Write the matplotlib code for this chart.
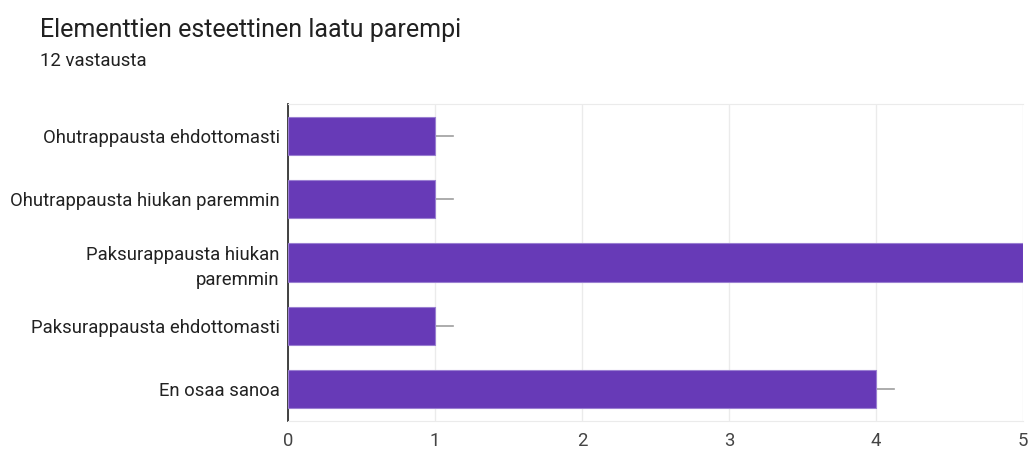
import matplotlib.pyplot as plt

# data
categories = [
    "Ohutrappausta ehdottomasti",
    "Ohutrappausta hiukan paremmin",
    "Paksurappausta hiukan\nparemmin",
    "Paksurappausta ehdottomasti",
    "En osaa sanoa",
]
counts = [1, 1, 5, 1, 4]
xticks = [0, 1, 2, 3, 4, 5]
title = "Elementtien esteettinen laatu parempi"
subtitle = "12 vastausta"

plt.rcParams['font.family'] = ['Roboto', 'DejaVu Sans']

fig = plt.figure(figsize=(10.29, 4.5), dpi=100)
ax = fig.add_axes([0.2799, 0.0644, 0.7143, 0.7046])

y = list(range(len(categories)))
ax.barh(y, counts, height=0.6, color='#673ab7', edgecolor='#9a7fd1', linewidth=0.8, zorder=3)

# small leader lines at bar ends
for yi, c in zip(y, counts):
    ax.plot([c, c + 0.12], [yi, yi], color='#9e9e9e', linewidth=1.2, zorder=2, clip_on=True)

ax.set_xlim(0, 5)
ax.set_ylim(len(categories) - 0.5, -0.5)
ax.set_xticks(xticks)
ax.set_xticklabels([str(t) for t in xticks])
ax.set_yticks(y)
ax.set_yticklabels(categories, ha='right', multialignment='right', linespacing=1.5)

ax.tick_params(axis='y', length=0, pad=6, labelsize=13.3, labelcolor='#222222')
ax.tick_params(axis='x', length=0, pad=8, labelsize=13.3, labelcolor='#444444')

ax.grid(axis='x', color='#ebebeb', linewidth=1, zorder=0)
ax.set_axisbelow(True)
for side in ['top', 'right', 'bottom']:
    ax.spines[side].set_color('#ebebeb')
ax.spines['right'].set_visible(False)
ax.spines['left'].set_color('#333333')
ax.spines['left'].set_linewidth(1.3)

fig.text(40 / 1029, 1 - 30 / 450, title, fontsize=18, color='#212121', va='center', ha='left')
fig.text(40 / 1029, 1 - 61 / 450, subtitle, fontsize=13.4, color='#212121', va='center', ha='left')

fig.savefig('out.png', dpi=100, facecolor='white')
